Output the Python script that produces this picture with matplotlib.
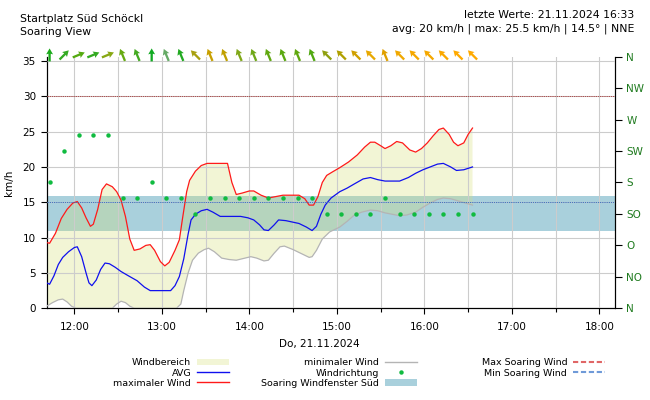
import matplotlib
matplotlib.use("Agg")
import matplotlib.pyplot as plt
import matplotlib.dates as mdates
from matplotlib.lines import Line2D
from matplotlib.patches import Patch
import numpy as np
import pandas as pd

DAY = "2024-11-21 "

# maximaler Wind (km/h)
max_t = ["11:41", "11:43", "11:47", "11:51", "11:55", "11:59", "12:02", "12:05", "12:08", "12:11",
         "12:13", "12:16", "12:19", "12:22", "12:26", "12:29", "12:32", "12:35", "12:38", "12:41",
         "12:45", "12:49", "12:52", "12:55", "12:59", "13:02", "13:05", "13:09", "13:12", "13:14",
         "13:17", "13:19", "13:23", "13:27", "13:31", "13:38", "13:45", "13:48", "13:51", "13:55",
         "14:00", "14:03", "14:08", "14:13", "14:18", "14:23", "14:29", "14:34", "14:38", "14:41",
         "14:44", "14:47", "14:50", "14:53", "14:57", "15:02", "15:08", "15:14", "15:19", "15:23",
         "15:26", "15:30", "15:33", "15:37", "15:41", "15:45", "15:50", "15:54", "15:58", "16:02",
         "16:06", "16:10", "16:13", "16:17", "16:20", "16:23", "16:27", "16:30", "16:33"]
max_v = [9.3, 9.2, 10.6, 12.7, 14.0, 14.9, 15.1, 14.2, 12.8, 11.6,
         11.9, 14.0, 16.8, 17.6, 17.2, 16.5, 15.3, 13.0, 9.8, 8.2,
         8.4, 8.9, 9.0, 8.2, 6.6, 6.0, 6.5, 8.2, 9.7, 12.5,
         16.5, 18.1, 19.4, 20.2, 20.5, 20.5, 20.5, 17.8, 16.1, 16.3,
         16.6, 16.6, 16.0, 15.6, 15.8, 16.0, 16.0, 16.0, 15.5, 14.6,
         14.6, 15.8, 17.8, 18.8, 19.3, 19.9, 20.7, 21.7, 22.8, 23.5,
         23.5, 23.0, 22.6, 23.0, 23.6, 23.4, 22.4, 22.1, 22.6, 23.4,
         24.4, 25.3, 25.5, 24.6, 23.5, 23.0, 23.4, 24.6, 25.5]

# AVG (km/h)
avg_t = ["11:41", "11:43", "11:46", "11:49", "11:52", "11:56", "12:00", "12:02", "12:05", "12:08",
         "12:10", "12:12", "12:15", "12:18", "12:21", "12:24", "12:28", "12:32", "12:37", "12:43",
         "12:48", "12:52", "13:06", "13:09", "13:12", "13:15", "13:18", "13:20", "13:23", "13:27",
         "13:31", "13:35", "13:40", "13:47", "13:54", "13:59", "14:03", "14:07", "14:10", "14:13",
         "14:17", "14:20", "14:25", "14:34", "14:39", "14:43", "14:46", "14:49", "14:52", "14:56",
         "15:02", "15:07", "15:12", "15:18", "15:23", "15:28", "15:33", "15:43", "15:49", "15:54",
         "15:59", "16:04", "16:09", "16:13", "16:18", "16:22", "16:27", "16:33"]
avg_v = [3.6, 3.4, 4.6, 6.2, 7.2, 8.0, 8.6, 8.7, 7.3, 5.0,
         3.6, 3.2, 4.0, 5.5, 6.4, 6.3, 5.8, 5.2, 4.6, 3.9,
         3.0, 2.5, 2.5, 3.2, 4.5, 7.0, 10.5, 12.5, 13.3, 13.8,
         14.0, 13.6, 13.0, 13.0, 13.0, 12.8, 12.5, 11.8, 11.1, 11.0,
         11.8, 12.5, 12.4, 12.0, 11.5, 11.0, 11.6, 13.3, 14.6, 15.6,
         16.5, 17.0, 17.6, 18.3, 18.5, 18.2, 18.0, 18.0, 18.5, 19.1,
         19.6, 20.0, 20.4, 20.5, 20.0, 19.5, 19.6, 20.0]

# minimaler Wind (km/h)
min_t = ["11:41", "11:45", "11:49", "11:52", "11:55", "11:58", "12:01", "12:26", "12:29", "12:32",
         "12:35", "12:38", "12:41", "13:10", "13:13", "13:15", "13:18", "13:21", "13:25", "13:29",
         "13:32", "13:36", "13:41", "13:46", "13:51", "13:57", "14:01", "14:05", "14:10", "14:13",
         "14:17", "14:21", "14:24", "14:30", "14:37", "14:41", "14:43", "14:46", "14:50", "14:55",
         "15:02", "15:07", "15:12", "15:17", "15:23", "15:28", "15:33", "15:38", "15:43", "15:48",
         "15:54", "15:59", "16:04", "16:09", "16:13", "16:18", "16:23", "16:28", "16:33"]
min_v = [0.3, 0.8, 1.2, 1.3, 0.9, 0.3, 0.0, 0.0, 0.6, 1.0,
         0.8, 0.3, 0.0, 0.0, 0.6, 2.5, 5.0, 6.8, 7.8, 8.3,
         8.5, 8.0, 7.1, 6.9, 6.8, 7.1, 7.3, 7.1, 6.7, 6.8,
         7.8, 8.7, 8.8, 8.3, 7.6, 7.2, 7.3, 8.2, 9.8, 10.8,
         11.5, 12.3, 13.2, 13.6, 13.9, 13.8, 13.5, 13.3, 13.1, 13.2,
         13.6, 14.3, 14.9, 15.4, 15.6, 15.5, 15.2, 14.9, 14.6]

# Windrichtung (Grad)
dir_t = ["11:43", "11:53", "12:03", "12:13", "12:23", "12:33", "12:43", "12:53", "13:03", "13:13",
         "13:23", "13:33", "13:43", "13:53", "14:03", "14:13", "14:23", "14:33", "14:43", "14:53",
         "15:03", "15:13", "15:23", "15:33", "15:43", "15:53", "16:03", "16:13", "16:23", "16:33"]
dir_deg = [180, 225, 247.5, 247.5, 247.5, 157.5, 157.5, 180, 157.5, 157.5,
           135, 157.5, 157.5, 157.5, 157.5, 157.5, 157.5, 157.5, 157.5, 135,
           135, 135, 135, 157.5, 135, 135, 135, 135, 135, 135]
arrow_colors = ["#1aaa1a", "#33aa22", "#55aa11", "#33aa22", "#88a814", "#66aa11", "#44aa22", "#11aa22",
                "#66aa66", "#22aa22", "#a8a010", "#c8a000", "#c0a000", "#80a818", "#70a818", "#60a810",
                "#5aa810", "#60a810", "#50a810", "#90a010", "#b0a000", "#d0a000", "#e8a800", "#e0a000",
                "#f0a800", "#f5a800", "#f5a800", "#faa800", "#ffaa00", "#ffaa00"]

soar_max = 30
soar_min = 15
window_deg = (110, 160)
dir_ticks = [0, 45, 90, 135, 180, 225, 270, 315, 360]
dir_labels = ["N", "NO", "O", "SO", "S", "SW", "W", "NW", "N"]
x_range = ("11:41:00", "18:10:30")


def to_num(times):
    return mdates.date2num(pd.to_datetime([DAY + s for s in times], format="mixed").to_pydatetime())


FILL = "#d4de76"
BAND = "#a9d0dc"

fig = plt.figure(figsize=(6.5, 4.0), dpi=100)
ax = fig.add_axes([0.0718, 0.2293, 0.8739, 0.629])
ax2 = ax.twinx()
ax.set_zorder(ax2.get_zorder() + 1)
ax.patch.set_visible(False)

tmax, tavg, tmin, tdir = to_num(max_t), to_num(avg_t), to_num(min_t), to_num(dir_t)

ax2.set_ylim(0, 360)
ax2.axhspan(*window_deg, color=BAND, lw=0)

ax.fill(np.concatenate([tmax, tmin[::-1]]), np.concatenate([max_v, min_v[::-1]]),
        color=FILL, alpha=0.3, lw=0, zorder=1)
ax.plot(tmin, min_v, color="#b4b4b4", lw=0.9, zorder=3)
ax.plot(tavg, avg_v, color="#1010ee", lw=0.9, zorder=3)
ax.plot(tmax, max_v, color="#ff1a1a", lw=0.9, zorder=3)
ax.axhline(soar_max, color="#a83a3a", ls=(0, (1.6, 1.0)), lw=0.6, zorder=3)
ax.axhline(soar_min, color="#2a6bc0", ls=(0, (1.6, 1.0)), lw=0.6, zorder=3)
ax.plot(tdir, dir_deg, "o", color="#10bb40", ms=3.2, mec="none", zorder=4,
        transform=ax2.transData)

# Pfeile oben
L = 13
bear = np.radians(np.array(dir_deg) + 180)
q = ax.quiver(tdir, np.full(len(tdir), 35.85), np.sin(bear) * L, np.cos(bear) * L,
              color=arrow_colors, pivot="middle", angles="uv", scale_units="dots", scale=1,
              units="dots", width=2.3, headwidth=3.0, headlength=2.6, headaxislength=2.3, zorder=5)
q.set_clip_on(False)

ax.set_xlim(*to_num(x_range))
ax.set_ylim(0, 35.6)
ax.set_yticks(np.arange(0, 36, 5))
ax.xaxis.set_major_locator(mdates.HourLocator())
ax.xaxis.set_major_formatter(mdates.DateFormatter("%H:%M"))
ax.xaxis.set_minor_locator(mdates.MinuteLocator(byminute=[30]))
ax.grid(which="both", axis="x", color="#cccccc", lw=0.8)
ax.grid(which="major", axis="y", color="#cccccc", lw=0.8)
ax.set_axisbelow(False)
ax.tick_params(axis="y", labelsize=7.5, length=4.3, width=0.8)
ax.tick_params(axis="x", which="major", labelsize=7.5, length=4.2, width=0.8, pad=5.5)
ax.tick_params(axis="x", which="minor", length=3.0, width=0.8)
ax.set_ylabel("km/h", fontsize=7.5, labelpad=6)

ax2.set_yticks(dir_ticks, dir_labels)
ax2.tick_params(axis="y", labelsize=7.5, labelcolor="#1e7a1e", length=4.8, width=0.8)
for a in (ax, ax2):
    a.spines["top"].set_visible(False)

fig.text(20 / 650, 1 - 19 / 400, "Startplatz Süd Schöckl", fontsize=7.8, va="center")
fig.text(20 / 650, 1 - 32 / 400, "Soaring View", fontsize=7.8, va="center")
fig.text(634 / 650, 1 - 15 / 400, "letzte Werte: 21.11.2024 16:33", fontsize=7.8,
         va="center", ha="right")
fig.text(634 / 650, 1 - 29 / 400, "avg: 20 km/h | max: 25.5 km/h | 14.5° | NNE", fontsize=7.8,
         va="center", ha="right")
fig.text(319 / 650, 1 - 344 / 400, "Do, 21.11.2024", fontsize=7.5, va="center", ha="center")

leg_kw = dict(frameon=False, markerfirst=False, fontsize=6.8, handlelength=3.4,
              handletextpad=0.6, labelspacing=0.12, borderpad=0, borderaxespad=0,
              loc="upper right")
col1 = [Patch(facecolor=FILL, alpha=0.3, lw=0),
        Line2D([], [], color="#1010ee", lw=1),
        Line2D([], [], color="#ff1a1a", lw=1)]
col2 = [Line2D([], [], color="#b4b4b4", lw=1),
        Line2D([], [], ls="none", marker="o", ms=3.2, color="#10bb40", mec="none"),
        Patch(facecolor=BAND, lw=0)]
col3 = [Line2D([], [], color="#e06666", lw=1.5, ls=(0, (2.5, 1.3))),
        Line2D([], [], color="#6f9ad8", lw=1.5, ls=(0, (2.5, 1.3)))]
fig.legend(col1, ["Windbereich", "AVG", "maximaler Wind"],
           bbox_to_anchor=(229 / 650, 0.104), **leg_kw)
fig.legend(col2, ["minimaler Wind", "Windrichtung", "Soaring Windfenster Süd"],
           bbox_to_anchor=(417 / 650, 0.104), **leg_kw)
fig.legend(col3, ["Max Soaring Wind", "Min Soaring Wind"],
           bbox_to_anchor=(605 / 650, 0.104), **leg_kw)

fig.savefig("out.png", dpi=100, facecolor="white")
